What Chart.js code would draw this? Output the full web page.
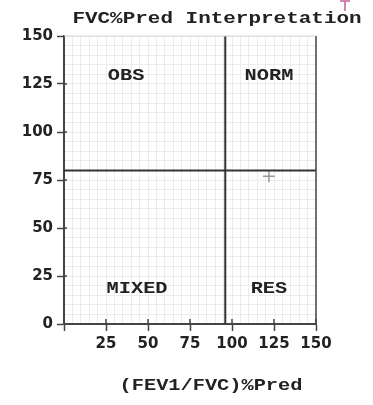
<!DOCTYPE html>
<html>
<head>
<meta charset="utf-8">
<script src="https://cdn.jsdelivr.net/npm/chart.js@4"></script>
<style>
  html, body { margin: 0; padding: 0; background: #fff; }
  #wrap { width: 373px; height: 405px; }
</style>
</head>
<body>
<div id="wrap"><canvas id="interpCanvas"></canvas></div>
<script>
// chart values
const ratioCutoff = 96;   // (FEV1/FVC)%Pred divider
const fvcCutoff = 80;     // FVC%Pred divider
const pointX = [122];
const pointY = [77];
const zoneLabels = ['OBS', 'NORM', 'MIXED', 'RES'];
const zoneX = [37, 122, 43.5, 122];
const zoneY = [129, 129, 18, 18];
const axisMin = 0;
const axisMax = 150;
const labelStep = 25;

const mono = '"Liberation Mono", "DejaVu Sans Mono", monospace';

function wideText(ctx, text, cx, cy, size, sx) {
    ctx.save();
    ctx.translate(cx, cy);
    ctx.scale(sx, 1);
    ctx.font = 'bold ' + size + 'px ' + mono;
    ctx.textAlign = 'center';
    ctx.textBaseline = 'middle';
    ctx.fillStyle = '#222';
    ctx.fillText(text, 0, 0);
    ctx.restore();
}

// frame, inner tick halves, zone names and titles
const textPlugin = {
    id: 'textPlugin',
    afterDraw(chart) {
        const ctx = chart.ctx;
        const a = chart.chartArea;
        const xs = chart.scales.x, ys = chart.scales.y;

        ctx.save();
        ctx.strokeStyle = '#444';
        ctx.lineWidth = 1.5;
        ctx.beginPath();
        ctx.moveTo(a.right, a.top);
        ctx.lineTo(a.right, a.bottom);
        ctx.stroke();
        // tick marks cross the axis line a little
        for (let v = labelStep; v <= axisMax; v += labelStep) {
            const px = xs.getPixelForValue(v);
            ctx.beginPath();
            ctx.moveTo(px, a.bottom);
            ctx.lineTo(px, a.bottom - 5);
            ctx.stroke();
        }
        for (let v = axisMin; v < axisMax; v += labelStep) {
            const py = ys.getPixelForValue(v);
            ctx.beginPath();
            ctx.moveTo(a.left, py);
            ctx.lineTo(a.left + 3, py);
            ctx.stroke();
        }
        ctx.strokeStyle = '#d4d4d4';
        ctx.lineWidth = 1;
        ctx.beginPath();
        ctx.moveTo(a.left, a.top);
        ctx.lineTo(a.right, a.top);
        ctx.stroke();

        // small pink cursor mark at top right
        ctx.strokeStyle = '#c8609a';
        ctx.lineWidth = 1.5;
        ctx.beginPath();
        ctx.moveTo(340, 1);
        ctx.lineTo(350, 1);
        ctx.moveTo(345, 1);
        ctx.lineTo(345, 11);
        ctx.stroke();
        ctx.restore();

        zoneLabels.forEach((t, i) => {
            wideText(ctx, t, xs.getPixelForValue(zoneX[i]), ys.getPixelForValue(zoneY[i]), 16, 1.27);
        });

        wideText(ctx, 'FVC%Pred Interpretation', 217, 19, 16.5, 1.27);
        wideText(ctx, '(FEV1/FVC)%Pred', 211, 386, 16, 1.27);
    }
};

const tickFont = { family: '"DejaVu Sans", sans-serif', size: 15, weight: 'bold' };

function gridColor(c) {
    return '#ececec';
}
function tickMarkColor(c) {
    return c.tick && c.tick.value % labelStep === 0 ? '#444' : 'rgba(0,0,0,0)';
}

const ctx = document.getElementById('interpCanvas').getContext('2d');
const interpChart = new Chart(ctx, {
    type: 'scatter',
    data: {
        datasets: [
            {
                type: 'line',
                data: [{ x: ratioCutoff, y: axisMin }, { x: ratioCutoff, y: axisMax }],
                borderColor: '#333',
                borderWidth: 2,
                pointRadius: 0
            },
            {
                type: 'line',
                data: [{ x: axisMin, y: fvcCutoff }, { x: axisMax, y: fvcCutoff }],
                borderColor: '#333',
                borderWidth: 2,
                pointRadius: 0
            },
            {
                data: pointX.map((v, i) => ({ x: v, y: pointY[i] })),
                pointStyle: 'cross',
                pointRadius: 6,
                borderColor: '#999',
                borderWidth: 1.5
            }
        ]
    },
    options: {
        responsive: true,
        maintainAspectRatio: false,
        animation: false,
        layout: { padding: { top: 36, right: 57, left: 0, bottom: 0 } },
        plugins: {
            legend: { display: false },
            tooltip: { enabled: false },
            title: { display: false }
        },
        scales: {
            x: {
                type: 'linear',
                min: axisMin,
                max: axisMax,
                afterFit(s) { s.height = 81; },
                border: { color: '#444', width: 2 },
                grid: { color: gridColor, tickColor: tickMarkColor, tickLength: 7, tickWidth: 1.5 },
                ticks: {
                    stepSize: 5,
                    autoSkip: false,
                    maxRotation: 0,
                    padding: 4,
                    color: '#222',
                    font: tickFont,
                    callback: v => (v % labelStep === 0 && v > 0 ? v : '')
                }
            },
            y: {
                type: 'linear',
                min: axisMin,
                max: axisMax,
                afterFit(s) { s.width = 64; },
                border: { color: '#444', width: 2 },
                grid: { color: gridColor, tickColor: tickMarkColor, tickLength: 7, tickWidth: 1.5 },
                ticks: {
                    stepSize: 5,
                    autoSkip: false,
                    padding: 4,
                    color: '#222',
                    font: tickFont,
                    callback: v => (v % labelStep === 0 ? v : '')
                }
            }
        }
    },
    plugins: [textPlugin]
});
</script>
</body>
</html>
